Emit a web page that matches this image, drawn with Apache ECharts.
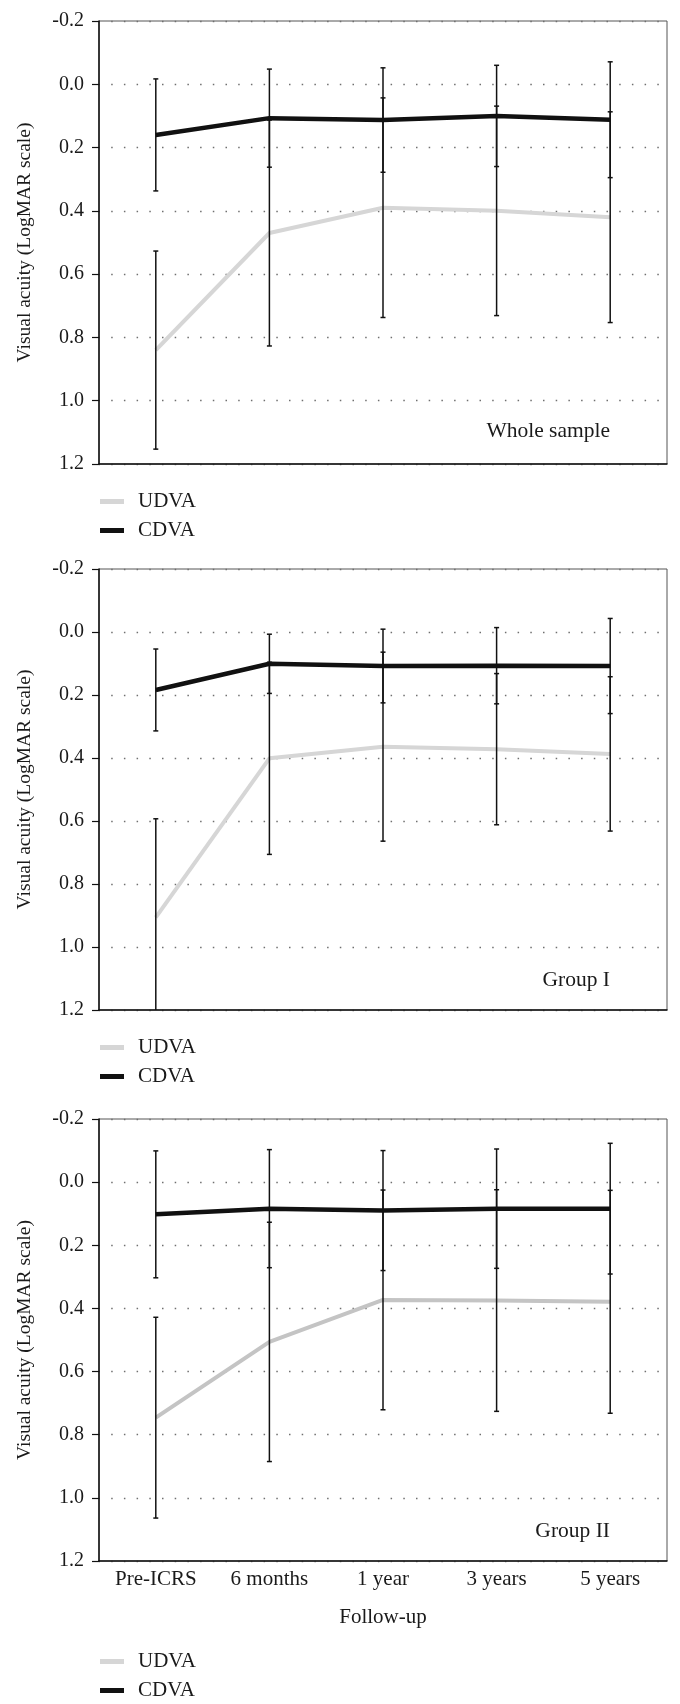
<!DOCTYPE html>
<html>
<head>
<meta charset="utf-8">
<script src="https://cdn.jsdelivr.net/npm/echarts@6/dist/echarts.min.js"></script>
<style>
  html, body { margin: 0; padding: 0; background: #fff; }
  #chart { width: 680px; height: 1704px; }
</style>
</head>
<body>
<div id="chart"></div>
<script>
// follow-up time points
var categories = ['Pre-ICRS', '6 months', '1 year', '3 years', '5 years'];

// whole sample (mean and SD, LogMAR)
var wholeUdva = [0.84, 0.47, 0.39, 0.40, 0.42];
var wholeUdvaSd = [0.313, 0.357, 0.347, 0.331, 0.333];
var wholeCdva = [0.16, 0.107, 0.113, 0.10, 0.112];
var wholeCdvaSd = [0.177, 0.155, 0.165, 0.16, 0.183];

// group I
var group1Udva = [0.906, 0.401, 0.364, 0.372, 0.387];
var group1UdvaSd = [0.313, 0.305, 0.30, 0.24, 0.245];
var group1Cdva = [0.184, 0.101, 0.108, 0.107, 0.108];
var group1CdvaSd = [0.13, 0.094, 0.117, 0.121, 0.151];

// group II
var group2Udva = [0.746, 0.506, 0.373, 0.375, 0.379];
var group2UdvaSd = [0.318, 0.379, 0.348, 0.351, 0.353];
var group2Cdva = [0.102, 0.084, 0.09, 0.084, 0.084];
var group2CdvaSd = [0.201, 0.187, 0.19, 0.189, 0.207];

var panelNames = ['Whole sample', 'Group I', 'Group II'];

var FONT = '"Liberation Serif", "DejaVu Serif", serif';
var TEXT = '#1a1a1a';

var panels = [
  { top: 21, height: 443, legendTop: 491, labelTop: 421,
    udva: wholeUdva, udvaSd: wholeUdvaSd, cdva: wholeCdva, cdvaSd: wholeCdvaSd, udvaColor: '#d6d6d6' },
  { top: 569, height: 441, legendTop: 1037, labelTop: 970,
    udva: group1Udva, udvaSd: group1UdvaSd, cdva: group1Cdva, cdvaSd: group1CdvaSd, udvaColor: '#d6d6d6' },
  { top: 1119, height: 442, legendTop: 1651, labelTop: 1521,
    udva: group2Udva, udvaSd: group2UdvaSd, cdva: group2Cdva, cdvaSd: group2CdvaSd, udvaColor: '#c4c4c4' }
];

// error bar drawn as a custom series: vertical line + small caps
function errorBar(api) {
  var idx = api.value(0);
  var lo = api.coord([idx, api.value(1)]);
  var hi = api.coord([idx, api.value(2)]);
  var cap = 2.5;
  var style = { stroke: '#111', lineWidth: 1.5 };
  return {
    type: 'group',
    children: [
      { type: 'line', shape: { x1: lo[0], y1: lo[1], x2: hi[0], y2: hi[1] }, style: style },
      { type: 'line', shape: { x1: lo[0] - cap, y1: lo[1], x2: lo[0] + cap, y2: lo[1] }, style: style },
      { type: 'line', shape: { x1: hi[0] - cap, y1: hi[1], x2: hi[0] + cap, y2: hi[1] }, style: style }
    ]
  };
}

function barData(mean, sd) {
  return mean.map(function (m, i) {
    return [i, m - sd[i], m + sd[i]];
  });
}

var grid = [], xAxis = [], yAxis = [], series = [], legend = [], title = [];

panels.forEach(function (p, k) {
  var last = k === panels.length - 1;
  grid.push({
    left: 99, width: 568, top: p.top, height: p.height,
    show: true, borderColor: '#555', borderWidth: 1
  });
  xAxis.push({
    gridIndex: k,
    type: 'category',
    data: categories,
    boundaryGap: true,
    axisLine: { onZero: false, lineStyle: { color: '#111', width: 1.5 } },
    axisTick: { show: false },
    axisLabel: { show: last, margin: 8, fontFamily: FONT, fontSize: 21, color: TEXT },
    name: last ? 'Follow-up' : '',
    nameLocation: 'middle',
    nameGap: 46,
    nameTextStyle: { fontFamily: FONT, fontSize: 21, color: TEXT }
  });
  yAxis.push({
    gridIndex: k,
    type: 'value',
    inverse: true,
    min: -0.2,
    max: 1.2,
    interval: 0.2,
    name: 'Visual acuity (LogMAR scale)',
    nameLocation: 'middle',
    nameGap: 64,
    nameTextStyle: { fontFamily: FONT, fontSize: 19.5, color: TEXT },
    axisLine: { show: true, lineStyle: { color: '#111', width: 1.5 } },
    axisTick: { show: true, length: 7, lineStyle: { color: '#111', width: 1.2 } },
    axisLabel: {
      margin: 15, fontFamily: FONT, fontSize: 20, color: TEXT,
      formatter: function (v) { return v.toFixed(1); }
    },
    splitLine: {
      show: true,
      lineStyle: { color: '#6f6f6f', width: 1.3, type: [1.5, 11.2], dashOffset: 0.5 }
    }
  });
  series.push({
    name: 'UDVA', type: 'line', xAxisIndex: k, yAxisIndex: k,
    data: p.udva, symbol: 'none', color: p.udvaColor,
    lineStyle: { color: p.udvaColor, width: 4 }, z: 2
  });
  series.push({
    name: 'CDVA', type: 'line', xAxisIndex: k, yAxisIndex: k,
    data: p.cdva, symbol: 'none', color: '#111',
    lineStyle: { color: '#111', width: 4.5 }, z: 3
  });
  series.push({
    name: 'UDVA SD', type: 'custom', xAxisIndex: k, yAxisIndex: k,
    data: barData(p.udva, p.udvaSd), renderItem: function (params, api) { return errorBar(api); },
    clip: true, z: 4
  });
  series.push({
    name: 'CDVA SD', type: 'custom', xAxisIndex: k, yAxisIndex: k,
    data: barData(p.cdva, p.cdvaSd), renderItem: function (params, api) { return errorBar(api); },
    clip: true, z: 4
  });
  legend.push({
    orient: 'vertical',
    left: 100,
    top: p.legendTop,
    padding: 0,
    itemGap: 8,
    itemWidth: 24,
    itemHeight: 5,
    icon: 'rect',
    selectedMode: false,
    data: ['UDVA', 'CDVA'],
    textStyle: { fontFamily: FONT, fontSize: 21, lineHeight: 21, color: TEXT, padding: [0, 0, 0, 9] }
  });
  title.push({
    text: panelNames[k],
    right: 70,
    top: p.labelTop,
    padding: 0,
    textStyle: { fontFamily: FONT, fontSize: 21.5, lineHeight: 21, fontWeight: 'normal', color: TEXT }
  });
});

var myChart = echarts.init(document.getElementById('chart'));
myChart.setOption({
  backgroundColor: '#fff',
  animation: false,
  title: title,
  legend: legend,
  grid: grid,
  xAxis: xAxis,
  yAxis: yAxis,
  series: series
});
</script>
</body>
</html>
